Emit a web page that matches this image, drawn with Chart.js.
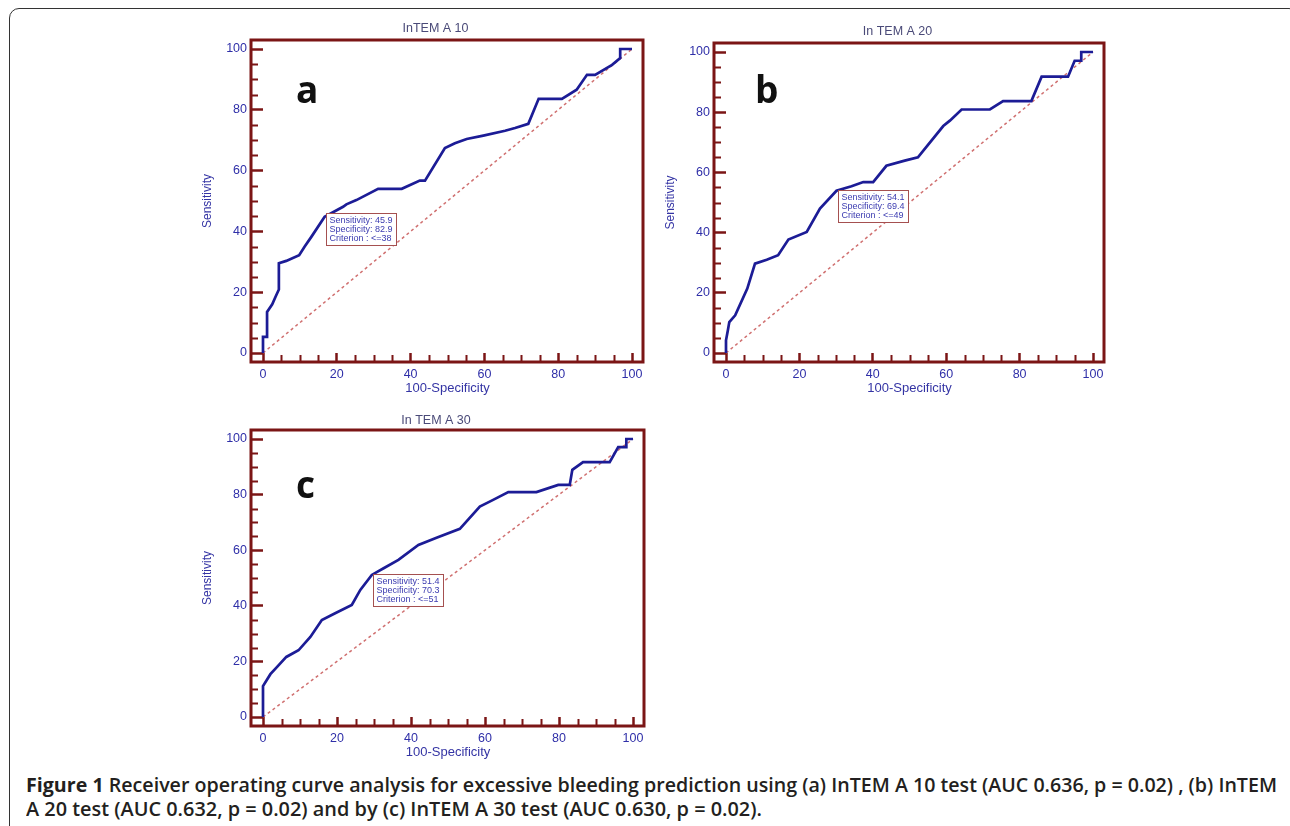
<!DOCTYPE html>
<html>
<head>
<meta charset="utf-8">
<script src="https://cdn.jsdelivr.net/npm/chart.js@4.4.1/dist/chart.umd.min.js"></script>
<style>
  body { margin: 0; width: 1290px; height: 826px; overflow: hidden; position: relative; background: #fff; }
  .outline { position: absolute; left: 9px; top: 8px; width: 1290px; height: 860px; border: 1.5px solid #333; border-radius: 10px; box-sizing: border-box; }
  .panel { position: absolute; }
  .cap { position: absolute; left: 26px; display: inline-block; font: 600 20px "Open Sans", "Noto Sans", sans-serif; line-height: 24px; color: #231f20; white-space: nowrap; transform-origin: 0 50%; }
  .cap b { font-weight: 700; }
</style>
</head>
<body>
<div class="outline"></div>
<div class="panel" style="left:190px;top:15px;width:460px;height:390px"><canvas id="rocA"></canvas></div>
<div class="panel" style="left:653px;top:18px;width:458px;height:387px"><canvas id="rocB"></canvas></div>
<div class="panel" style="left:190px;top:405px;width:461px;height:364px"><canvas id="rocC"></canvas></div>
<span class="cap" data-w="1251" style="top:773px"><b>Figure 1</b> Receiver operating curve analysis for excessive bleeding prediction using (a) InTEM A 10 test (AUC 0.636, p = 0.02) , (b) InTEM</span>
<span class="cap" data-w="736" style="top:797px">A 20 test (AUC 0.632, p = 0.02) and by (c) InTEM A 30 test (AUC 0.630, p = 0.02).</span>

<script>
// 100-Specificity (x) and Sensitivity (y)
var fprA  = [0, 0, 1.1, 1.1, 2.5, 3.4, 4.3, 4.3, 6.3, 9.8, 11.3, 13.1, 16.7, 21.7, 22.6, 25.3, 31.2, 37.6, 42.5, 43.9, 49.3, 52, 55.2, 59.7, 65.6, 68.3, 71.9, 74.7, 81, 85, 87.8, 90, 94.6, 96.8, 96.8, 100];
var sensA = [0, 5.3, 5.3, 13.5, 16, 18.5, 20.9, 29.5, 30.3, 32.2, 35, 38.2, 44.8, 48.1, 48.9, 50.3, 54, 54, 56.7, 56.7, 67.4, 69, 70.4, 71.5, 73.1, 74, 75.4, 83.6, 83.6, 86.6, 91.5, 91.5, 94.8, 97, 100, 100];

var fprB  = [0, 0, 0.5, 0.9, 2.5, 5.8, 7.9, 11.1, 14.2, 17, 22, 25.6, 30.1, 34.2, 37.4, 40.1, 43.7, 48.7, 52.3, 54.6, 59.2, 61, 64.2, 71.9, 75.5, 83.2, 86, 93.2, 95, 96.8, 96.8, 100];
var sensB = [0, 4.2, 7.5, 10.3, 12.5, 21.4, 29.7, 31, 32.5, 37.7, 40.2, 48, 53.9, 55.4, 56.8, 56.8, 62.2, 63.9, 65, 68.5, 75.4, 77.2, 80.9, 80.9, 83.7, 83.7, 91.8, 91.8, 97.1, 97.1, 100, 100];

var fprC  = [0, 0, 2, 4, 6.3, 9.6, 12.8, 15.9, 19.5, 24, 26.3, 29.4, 32.6, 36.6, 42, 46.9, 53.2, 58.6, 62.2, 66.3, 73.9, 79.8, 82.9, 83.6, 86.5, 93.7, 96, 98.2, 98.2, 100];
var sensC = [0, 11.1, 15.4, 18.3, 21.6, 24, 28.8, 34.9, 37.3, 40.3, 45.7, 51.1, 53.5, 56.5, 61.9, 64.5, 67.7, 75.7, 78.1, 80.9, 80.9, 83.5, 83.5, 88.9, 91.7, 91.7, 97.1, 97.1, 100, 100];

// reference (chance) line
var diagX = [0, 100];
var diagY = [0, 100];

// optimal cut-off boxes
var optSens = [45.9, 54.1, 51.4];
var optSpec = [82.9, 69.4, 70.3];
var optCrit = ['<=38', '<=49', '<=51'];

var panelTitles  = ['InTEM A 10', 'In TEM A 20', 'In TEM A 30'];
var panelLetters = ['a', 'b', 'c'];
var xTitle = '100-Specificity';
var yTitle = 'Sensitivity';
var majorStep = 20;
var minorStep = 5;

var FRAME = '#7b1515';
var TEXT_BLUE = '#2f2fa8';

// squeeze caption lines to the width they have in the figure
document.querySelectorAll('.cap').forEach(function (el) {
    var w = el.getBoundingClientRect().width;
    el.style.transform = 'scaleX(' + (parseFloat(el.dataset.w) / w) + ')';
});

function toPoints(xs, ys) {
    return xs.map(function (x, i) { return { x: x, y: ys[i] }; });
}

var rocDecor = {
    id: 'rocDecor',
    afterDraw: function (chart, args, o) {
        var c = chart.ctx, a = chart.chartArea;
        var sx = chart.scales.x, sy = chart.scales.y;
        c.save();

        // frame around the plot
        c.strokeStyle = FRAME;
        c.lineWidth = 3;
        c.strokeRect(a.left - 12, a.top - 9, a.right - a.left + 23, a.bottom - a.top + 18);

        // minor ticks
        c.lineWidth = 2;
        c.beginPath();
        for (var v = minorStep; v < 100; v += minorStep) {
            if (v % majorStep === 0) continue;
            var py = Math.round(sy.getPixelForValue(v)) + 0.5;
            c.moveTo(a.left - 12, py); c.lineTo(a.left - 5, py);
            var px = Math.round(sx.getPixelForValue(v)) + 0.5;
            c.moveTo(px, a.bottom + 9); c.lineTo(px, a.bottom + 2);
        }
        c.stroke();

        // panel title
        c.font = '12.5px "Liberation Sans", Arial, sans-serif';
        c.fillStyle = '#4a4a78';
        c.textAlign = 'center';
        c.textBaseline = 'middle';
        c.fillText(panelTitles[o.idx], (a.left + a.right) / 2 - 12, a.top - o.titleDy);

        // big panel letter
        c.font = 'bold 37px "Open Sans", sans-serif';
        c.fillStyle = '#111';
        c.textAlign = 'left';
        c.textBaseline = 'alphabetic';
        c.fillText(panelLetters[o.idx], a.left + o.letterDx, a.top + o.letterDy);

        // cut-off box anchored at the optimal point
        var bx = Math.round(sx.getPixelForValue(100 - optSpec[o.idx])) + 0.5;
        var by = Math.round(sy.getPixelForValue(optSens[o.idx])) + 0.5;
        c.fillStyle = '#fff';
        c.fillRect(bx, by, 70, 32);
        c.strokeStyle = '#a55050';
        c.lineWidth = 1;
        c.strokeRect(bx, by, 70, 32);
        c.font = '9px "Liberation Sans", Arial, sans-serif';
        c.fillStyle = '#3b3bb0';
        c.textBaseline = 'middle';
        c.fillText('Sensitivity: ' + optSens[o.idx].toFixed(1), bx + 3, by + 7);
        c.fillText('Specificity: ' + optSpec[o.idx].toFixed(1), bx + 3, by + 16);
        c.fillText('Criterion : ' + optCrit[o.idx], bx + 3, by + 25);

        c.restore();
    }
};

function createRoc(id, idx, fpr, sens, deco) {
    var ctx = document.getElementById(id).getContext('2d');
    return new Chart(ctx, {
        type: 'line',
        data: {
            datasets: [{
                data: toPoints(fpr, sens),
                borderColor: '#1c1c96',
                borderWidth: 2.7,
                pointRadius: 0,
                tension: 0,
                clip: 6
            }, {
                data: toPoints(diagX, diagY),
                borderColor: '#d07070',
                borderWidth: 1.5,
                borderDash: [3, 3],
                pointRadius: 0,
                clip: 6
            }]
        },
        options: {
            animation: false,
            responsive: true,
            maintainAspectRatio: false,
            layout: { padding: { top: 34, right: 18, left: 0, bottom: 0 } },
            plugins: {
                legend: { display: false },
                tooltip: { enabled: false },
                title: { display: false },
                rocDecor: Object.assign({ idx: idx }, deco)
            },
            scales: {
                x: {
                    type: 'linear',
                    min: 0, max: 100,
                    afterFit: function (s) { s.height = 52; },
                    grid: { drawOnChartArea: false, drawTicks: true, tickLength: 9, tickColor: FRAME, tickWidth: 2.5 },
                    border: { display: false },
                    ticks: { stepSize: majorStep, padding: 5, maxRotation: 0, autoSkip: false, color: TEXT_BLUE,
                             font: { family: '"Liberation Sans", Arial, sans-serif', size: 12.5 } },
                    title: { display: true, text: xTitle, color: '#3434a4', padding: { top: 0, bottom: 9 },
                             font: { family: '"Liberation Sans", Arial, sans-serif', size: 13 } }
                },
                y: {
                    min: 0, max: 100,
                    afterFit: function (s) { s.width = 73; },
                    grid: { drawOnChartArea: false, drawTicks: true, tickLength: 12, tickColor: FRAME, tickWidth: 2.5 },
                    border: { display: false },
                    ticks: { stepSize: majorStep, padding: 4, color: TEXT_BLUE,
                             font: { family: '"Liberation Sans", Arial, sans-serif', size: 12.5 } },
                    title: { display: true, text: yTitle, color: '#3434a4', padding: { top: 10, bottom: 0 },
                             font: { family: '"Liberation Sans", Arial, sans-serif', size: 12 } }
                }
            }
        },
        plugins: [rocDecor]
    });
}

createRoc('rocA', 0, fprA, sensA, { titleDy: 20, letterDx: 33, letterDy: 54 });
createRoc('rocB', 1, fprB, sensB, { titleDy: 20, letterDx: 29, letterDy: 51 });
createRoc('rocC', 2, fprC, sensC, { titleDy: 18, letterDx: 33, letterDy: 59 });
</script>
</body>
</html>
